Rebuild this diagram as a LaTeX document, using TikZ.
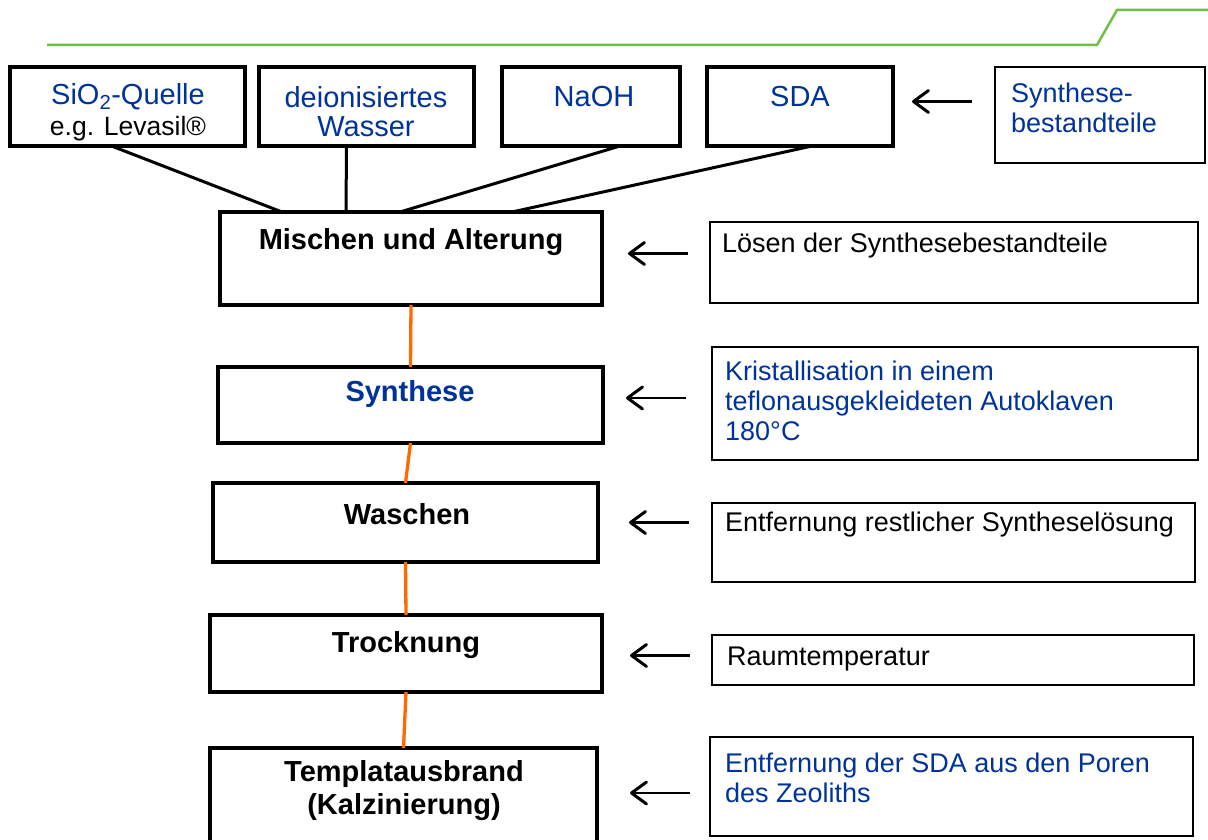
\documentclass[tikz,border=0pt]{standalone}
\usepackage{fontspec}
\setmainfont{Liberation Sans}
\usetikzlibrary{arrows.meta,calc}
\definecolor{txtblue}{RGB}{0,51,153}
\definecolor{linkorange}{RGB}{255,106,0}
\definecolor{headgreen}{RGB}{112,190,70}
\tikzset{
  stepbox/.style={draw,line width=3.5pt,inner sep=0pt,outer sep=0pt,anchor=north west},
  notebox/.style={draw,line width=1.8pt,inner sep=0pt,outer sep=0pt,anchor=north west},
  intxt/.style={inner sep=0pt,align=center,text=txtblue,font=\fontsize{29}{29}\selectfont},
  steptxt/.style={inner sep=0pt,align=center,font=\fontsize{29}{33}\selectfont\bfseries},
  notetxt/.style={inner sep=0pt,align=left,anchor=west,font=\fontsize{27}{30}\selectfont},
  feed/.style={line width=3pt},
  link/.style={line width=3.3pt,linkorange},
  hint/.style={line width=2.7pt,{Straight Barb[length=15pt,width=22pt,line width=3pt,round]}-},
}
\begin{document}
\begin{tikzpicture}[x=1pt,y=-1pt]
  \useasboundingbox (0,0) rectangle (1208,840);
  % header line
  \draw[headgreen,line width=2.5pt] (47,45) -- (1097,45) -- (1117,10) -- (1208,10);

  % ingredients
  \node[stepbox,minimum width=235pt,minimum height=79pt] (sio) at (10,67) {};
  \node[stepbox,minimum width=215pt,minimum height=79pt] (water) at (259,67) {};
  \node[stepbox,minimum width=178pt,minimum height=79pt] (naoh) at (502,67) {};
  \node[stepbox,minimum width=186pt,minimum height=79pt] (sda) at (707,67) {};
  \node[notebox,minimum width=210pt,minimum height=96pt] (parts) at (995,67) {};
  \node[intxt] (siot) at (128,112) {SiO\textsubscript{2}-Quelle\\[2pt]{\color{black}\fontsize{26.5}{26.5}\selectfont e.g. Levasil®}};
  \node[intxt] (watert) at (366,112) {deionisiertes\\Wasser};
  \node[intxt] (naoht) at (594,97) {NaOH};
  \node[intxt] (sdat) at (800,97) {SDA};
  \node[notetxt,text=txtblue] (partst) at (1011,108) {Synthese-\\bestandteile};

  % process steps
  \node[stepbox,minimum width=382pt,minimum height=93pt] (mix) at (220,212) {};
  \node[stepbox,minimum width=385pt,minimum height=76pt] (synth) at (218,367) {};
  \node[stepbox,minimum width=385pt,minimum height=79pt] (wash) at (213,483) {};
  \node[stepbox,minimum width=392pt,minimum height=77pt] (dry) at (210,615) {};
  \node[stepbox,minimum width=387pt,minimum height=100pt] (calc) at (210,748) {};
  \node[steptxt] (mixt) at (411,242) {Mischen und Alterung};
  \node[steptxt,text=txtblue] (syntht) at (410,394) {Synthese};
  \node[steptxt] (washt) at (407,514) {Waschen};
  \node[steptxt] (dryt) at (406,645) {Trocknung};
  \node[steptxt] (calct) at (404,791) {Templatausbrand\\(Kalzinierung)};

  % notes
  \node[notebox,minimum width=488pt,minimum height=81pt] (solve) at (710,222) {};
  \node[notebox,minimum width=486pt,minimum height=113pt] (cryst) at (712,347) {};
  \node[notebox,minimum width=483pt,minimum height=79pt] (rinse) at (712,503) {};
  \node[notebox,minimum width=482pt,minimum height=50pt] (room) at (712,635) {};
  \node[notebox,minimum width=483pt,minimum height=99pt] (burn) at (710,737) {};
  \node[notetxt] (solvet) at (722,246) {Lösen der Synthesebestandteile};
  \node[notetxt,text=txtblue] (crystt) at (725,401) {Kristallisation in einem\\teflonausgekleideten Autoklaven\\180°C};
  \node[notetxt] (rinset) at (725,525) {Entfernung restlicher Syntheselösung};
  \node[notetxt] (roomt) at (727,659) {Raumtemperatur};
  \node[notetxt,text=txtblue] (burnt) at (725,778) {Entfernung der SDA aus den Poren\\des Zeoliths};

  % feeds into mixing
  \draw[feed] ([xshift=-16pt]sio.south) -- ([xshift=-129pt]mix.north);
  \draw[feed] ([xshift=-20pt]water.south) -- ([xshift=-65pt]mix.north);
  \draw[feed] ([xshift=29pt]naoh.south) -- ([xshift=-11pt]mix.north);
  \draw[feed] ([xshift=12pt]sda.south) -- ([xshift=101pt]mix.north);

  % step links
  \draw[link] (mix.south) -- (synth.north);
  \draw[link] (synth.south) -- (wash.north);
  \draw[link] (wash.south) -- (dry.north);
  \draw[link] (dry.south) -- (calc.north);

  % hints
  \draw[hint] ([xshift=19pt,yshift=5pt]sda.east) -- ++(60,0);
  \draw[hint] ([xshift=26pt,yshift=5pt]mix.east) -- ++(60,0);
  \draw[hint] ([xshift=23pt,yshift=7pt]synth.east) -- ++(60,0);
  \draw[hint] ([xshift=31pt]wash.east) -- ++(60,0);
  \draw[hint] ([xshift=28pt,yshift=-2pt]dry.east) -- ++(60,0);
  \draw[hint] ([xshift=33pt,yshift=5pt]calc.east) -- ++(60,0);
\end{tikzpicture}
\end{document}
